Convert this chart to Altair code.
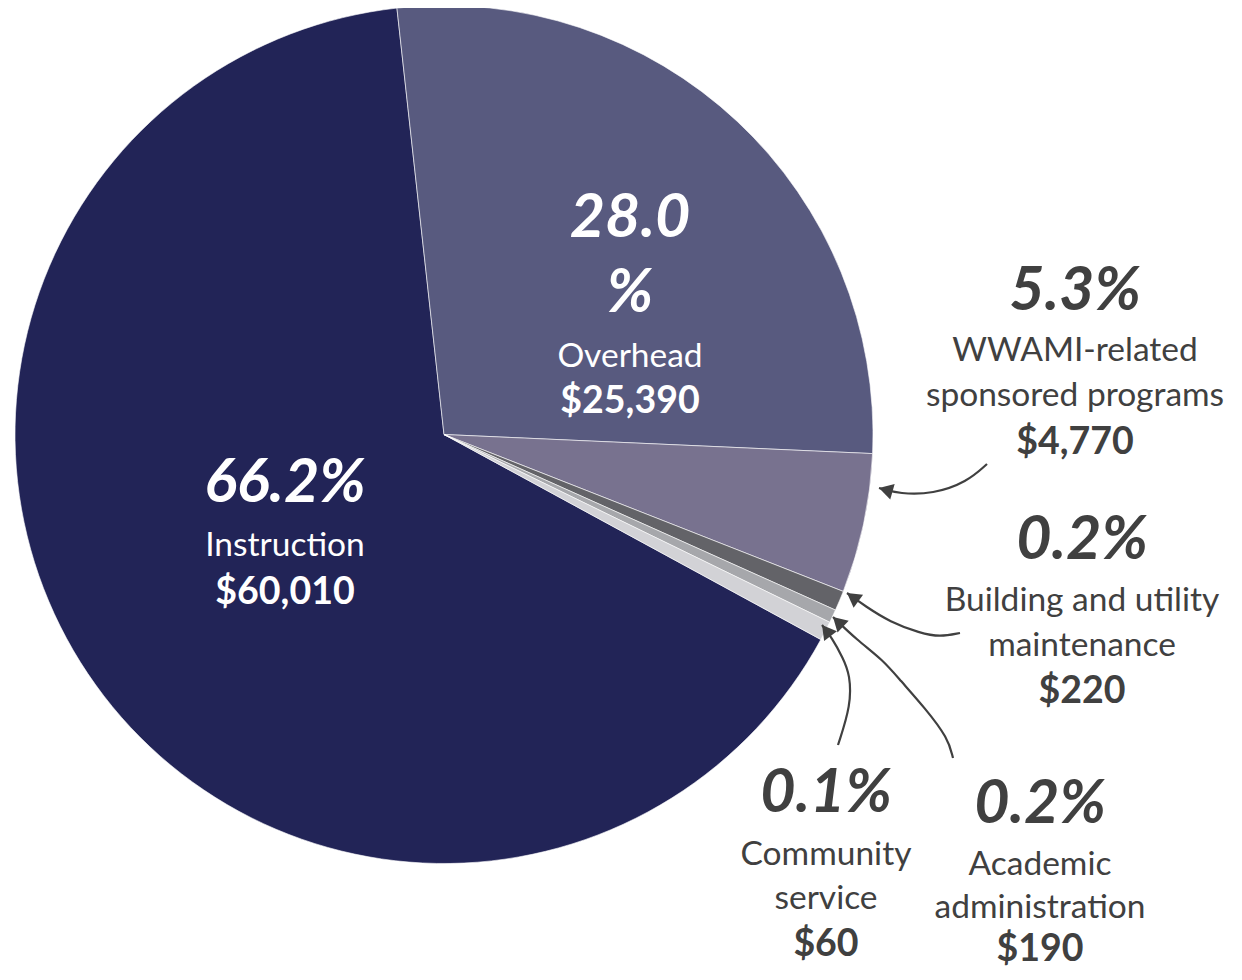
import math
import altair as alt
import pandas as pd

# ---------------- data ----------------
categories = [
    "Instruction",
    "Overhead",
    "WWAMI-related sponsored programs",
    "Building and utility maintenance",
    "Academic administration",
    "Community service",
]
amounts = [60010, 25390, 4770, 220, 190, 60]
pct_labels = ["66.2%", "28.0%", "5.3%", "0.2%", "0.2%", "0.1%"]
# slice sizes as they are drawn in the reference (percent of circle; tiny slices are enlarged there)
drawn_share = [65.3, 27.45, 5.25, 0.75, 0.5, 0.72]
# label text broken into lines as in the reference
pct_lines = [["66.2%"], ["28.0", "%"], ["5.3%"], ["0.2%"], ["0.2%"], ["0.1%"]]
name_lines = [
    ["Instruction"],
    ["Overhead"],
    ["WWAMI-related", "sponsored programs"],
    ["Building and utility", "maintenance"],
    ["Academic", "administration"],
    ["Community", "service"],
]

# ---------------- styling / layout ----------------
colors = ["#222457", "#585A7F", "#78728F", "#636368", "#A6A7AB", "#D2D2D6"]
draw_order = [5, 0, 1, 2, 3, 4]  # overhead first (clockwise from top), instruction last
text_colors = ["white", "white", "#404040", "#404040", "#404040", "#404040"]
FONT = "Lato"
M = 8  # page margin
W, H = 1226, 964
CX, CY, R = 444 - M, 434.5 - M, 429
START = 2 * math.pi + math.radians(-6.3)

# label layout: centre x, baselines of each line (page px)
label_x = [285, 630, 1075, 1082, 1040, 826]
label_base = [
    [502, 556, 604],
    [237, 312, 367, 413],
    [310, 361, 406, 454],
    [559, 611, 656, 703],
    [823, 875, 918, 961],
    [812, 865, 909, 956],
]
# arrow paths (page px), last point = arrow tip
arrows = {
    2: [(987, 464), (967, 482), (933, 494), (900, 494), (879, 488)],
    3: [(960, 633), (940, 637), (920, 633), (890, 622), (865, 606), (847, 593)],
    4: [(953, 758), (948, 738), (925, 708), (900, 680), (883, 660), (857, 640), (833, 617)],
    5: [(838, 745), (851, 705), (850, 675), (843, 658), (832, 638), (822, 625)],
}

# ---------------- tables ----------------
pie_df = pd.DataFrame({"category": categories, "share": drawn_share, "order": draw_order})

rows = []
for i, cat in enumerate(categories):
    lines = [(t, "pct") for t in pct_lines[i]] + [(t, "name") for t in name_lines[i]] + [
        (f"${amounts[i]:,}", "amt")
    ]
    for (t, style), yb in zip(lines, label_base[i]):
        rows.append({"x": label_x[i] - M, "y": yb - M, "text": t, "style": style, "col": text_colors[i]})
txt_df = pd.DataFrame(rows)

line_rows, head_rows = [], []
for k, pts in arrows.items():
    for j, (px, py) in enumerate(pts):
        line_rows.append({"arrow": k, "i": j, "x": px - M, "y": py - M})
    (ax, ay), (bx, by) = pts[-2], pts[-1]
    dx, dy = bx - ax, by - ay
    L = math.hypot(dx, dy)
    ux, uy = dx / L, dy / L
    back = 7
    ang = math.degrees(math.atan2(dx, -dy)) % 360
    head_rows.append({"x": bx - ux * back - M, "y": by - uy * back - M, "ang": ang})
line_df = pd.DataFrame(line_rows)
head_df = pd.DataFrame(head_rows)

xs = alt.Scale(domain=[0, W], range=[0, W], zero=False, nice=False)
ys = alt.Scale(domain=[0, H], range=[0, H], zero=False, nice=False)

pie = alt.Chart(pie_df).mark_arc(outerRadius=R, stroke="white", strokeWidth=0.6).encode(
    theta=alt.Theta("share:Q", stack=True, scale=alt.Scale(range=[START, START + 2 * math.pi])),
    order=alt.Order("order:Q"),
    color=alt.Color("category:N", scale=alt.Scale(domain=categories, range=colors), legend=None),
    x=alt.value(CX),
    y=alt.value(CY),
)

def text_layer(style, size, weight, italic):
    kw = dict(align="center", baseline="alphabetic", font=FONT, fontSize=size, fontWeight=weight)
    if italic:
        kw["fontStyle"] = "italic"
    return (
        alt.Chart(txt_df)
        .transform_filter(alt.datum.style == style)
        .mark_text(**kw)
        .encode(
            x=alt.X("x:Q", scale=xs, axis=None),
            y=alt.Y("y:Q", scale=ys, axis=None),
            text="text:N",
            color=alt.Color("col:N", scale=None),
        )
    )

lines = alt.Chart(line_df).mark_line(interpolate="basis", color="#404040", strokeWidth=2.2).encode(
    x=alt.X("x:Q", scale=xs, axis=None),
    y=alt.Y("y:Q", scale=ys, axis=None),
    detail="arrow:N",
    order="i:Q",
)
heads = alt.Chart(head_df).mark_point(shape="triangle-up", filled=True, size=260, color="#404040", opacity=1).encode(
    x=alt.X("x:Q", scale=xs, axis=None),
    y=alt.Y("y:Q", scale=ys, axis=None),
    angle=alt.Angle("ang:Q", scale=None),
)

chart = (
    alt.layer(
        pie,
        lines,
        heads,
        text_layer("pct", 61, "bold", True),
        text_layer("name", 33.5, "normal", False),
        text_layer("amt", 37.5, "bold", False),
    )
    .properties(width=W, height=H, autosize="none", padding=0, background="white")
    .configure_view(stroke=None)
)

chart.save("out.html", embed_options={"renderer": "svg", "actions": False})
